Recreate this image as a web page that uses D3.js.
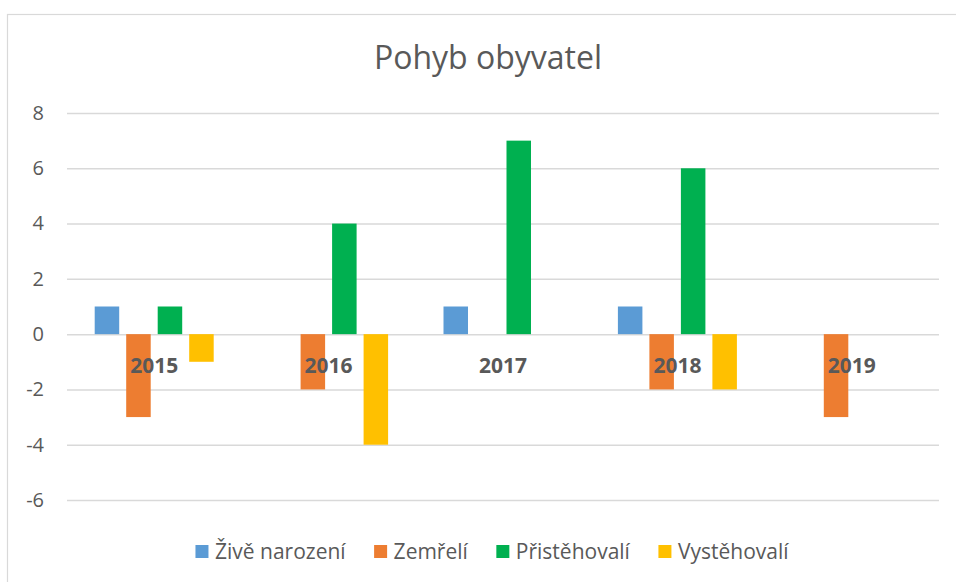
<!DOCTYPE html>
<html>
<head>
<meta charset="utf-8">
<script src="https://cdn.jsdelivr.net/npm/d3@7"></script>
<style>
  body { margin: 0; background: #fff; }
  svg { display: block; font-family: "Open Sans", sans-serif; }
</style>
</head>
<body>
<svg id="chart"></svg>
<script>
const years = ["2015", "2016", "2017", "2018", "2019"];
const seriesNames = ["Živě narození", "Zemřelí", "Přistěhovalí", "Vystěhovalí"];
const seriesColors = ["#5B9BD5", "#ED7D31", "#00B050", "#FFC000"];
const narozeni = [1, 0, 1, 1, 0];
const zemreli = [-3, -2, 0, -2, -3];
const pristehovali = [1, 4, 7, 6, 0];
const vystehovali = [-1, -4, 0, -2, 0];
const yTicks = [-6, -4, -2, 0, 2, 4, 6, 8];

const seriesValues = [narozeni, zemreli, pristehovali, vystehovali];

const width = 956, height = 582;
const svg = d3.select("#chart").attr("width", width).attr("height", height);

// chart frame (goes off the right/bottom edge like the screenshot)
svg.append("rect")
  .attr("x", 7.5).attr("y", 14.5)
  .attr("width", 1000).attr("height", 1000)
  .attr("fill", "#fff")
  .attr("stroke", "#d9d9d9")
  .attr("stroke-width", 1.2);

const plot = { left: 67, right: 939, top: 113, bottom: 500 };

const x = d3.scaleBand().domain(years).range([plot.left, plot.right]);
const groupW = 119;
const x1 = d3.scaleBand()
  .domain(seriesNames)
  .range([(x.bandwidth() - groupW) / 2, (x.bandwidth() + groupW) / 2])
  .paddingInner(0.222);
const y = d3.scaleLinear().domain([-6, 8]).range([plot.bottom, plot.top]);

// title
svg.append("text")
  .attr("x", 488).attr("y", 69)
  .attr("text-anchor", "middle")
  .attr("fill", "#595959")
  .style("font-size", "32px")
  .text("Pohyb obyvatel");

// gridlines + y labels (plain hyphen for negatives, like the original)
const yAxis = svg.append("g")
  .attr("transform", `translate(${plot.left},0)`)
  .call(d3.axisLeft(y).tickValues(yTicks).tickSize(-(plot.right - plot.left)).tickPadding(23).tickFormat((d) => String(d)));
yAxis.select(".domain").remove();
yAxis.selectAll(".tick line").attr("stroke", "#d9d9d9").attr("stroke-width", 1.5);
yAxis.selectAll(".tick text")
  .attr("fill", "#595959")
  .style("font-size", "20px")
  .style("font-family", "'Open Sans', sans-serif");

// bars
const groups = svg.append("g").selectAll("g")
  .data(years)
  .join("g")
  .attr("transform", (d) => `translate(${x(d)},0)`);

groups.selectAll("rect")
  .data((d, i) => seriesNames.map((s, j) => ({ s, v: seriesValues[j][i], c: seriesColors[j] })))
  .join("rect")
  .filter((d) => d.v !== 0)
  .attr("x", (d) => x1(d.s))
  .attr("width", x1.bandwidth())
  .attr("y", (d) => y(Math.max(0, d.v)))
  .attr("height", (d) => Math.abs(y(d.v) - y(0)))
  .attr("fill", (d) => d.c);

// category labels sit just under the zero line
svg.append("g").selectAll("text")
  .data(years)
  .join("text")
  .attr("x", (d) => x(d) + x.bandwidth() / 2)
  .attr("y", 373)
  .attr("text-anchor", "middle")
  .attr("fill", "#595959")
  .style("font-size", "21px")
  .style("font-weight", "bold")
  .text((d) => d);

// legend
const legend = svg.append("g");
const items = legend.selectAll("g")
  .data(seriesNames)
  .join("g");
items.append("rect")
  .attr("width", 13).attr("height", 13)
  .attr("y", 545)
  .attr("fill", (d, i) => seriesColors[i]);
items.append("text")
  .attr("x", 19.5)
  .attr("y", 558.5)
  .attr("fill", "#595959")
  .style("font-size", "21px")
  .text((d) => d);

let offset = 0;
const offsets = [];
items.each(function () {
  offsets.push(offset);
  const w = d3.select(this).select("text").node().getComputedTextLength();
  offset += 19.5 + w + 28.5;
});
const totalW = offset - 28.5;
const startX = 492 - totalW / 2;
items.attr("transform", (d, i) => `translate(${startX + offsets[i]},0)`);
</script>
</body>
</html>
